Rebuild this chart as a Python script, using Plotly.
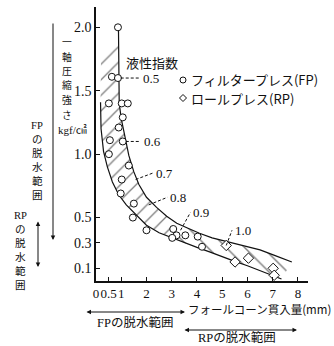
import numpy as np
import plotly.graph_objects as go

# ---- data -------------------------------------------------------------
# Filter press (FP) samples: fall-cone penetration (mm) vs unconfined strength (kgf/cm2)
fp_x = [0.87, 0.63, 0.87, 0.51, 1.02, 1.26, 1.06, 0.90, 0.55, 1.06, 0.51, 1.30,
        1.02, 0.98, 1.50, 1.46, 2.00, 3.06, 3.19, 3.02, 3.54, 4.03, 4.20]
fp_y = [2.00, 1.61, 1.60, 1.40, 1.40, 1.40, 1.29, 1.21, 1.11, 1.10, 1.00, 0.91,
        0.80, 0.69, 0.61, 0.50, 0.40, 0.41, 0.36, 0.34, 0.36, 0.35, 0.27]

# Roll press (RP) samples
rp_x = [5.16, 5.51, 6.04, 7.02, 7.06]
rp_y = [0.28, 0.15, 0.18, 0.10, 0.045]

# Upper and lower limits of the data band
upper_x = [0.89, 0.92, 1.00, 1.10, 1.30, 1.50, 1.70, 2.00, 2.40, 2.80, 3.20, 3.60,
           4.10, 4.60, 5.20, 5.80, 6.50, 7.10, 7.76]
upper_y = [2.00, 1.40, 1.28, 1.18, 0.99, 0.86, 0.76, 0.66, 0.58, 0.51, 0.455, 0.42,
           0.376, 0.34, 0.31, 0.275, 0.245, 0.20, 0.15]
lower_x = [0.18, 0.20, 0.30, 0.45, 0.65, 0.90, 1.20, 1.50, 2.00, 2.50, 3.00, 3.50,
           4.00, 4.50, 5.00, 5.50, 6.00, 6.50, 7.00, 7.35]
lower_y = [1.41, 1.20, 1.02, 0.90, 0.78, 0.68, 0.60, 0.54, 0.44, 0.38, 0.34, 0.30,
           0.265, 0.23, 0.19, 0.155, 0.12, 0.08, 0.045, 0.016]
band_top_x = [0.89, 0.20]
band_top_y = [1.92, 1.78]
hatch_split = 3.0

# Liquidity index labels and their leader lines
li_text = ["0.5", "0.6", "0.7", "0.8", "0.9", "1.0"]
li_from_x = [0.98, 1.18, 1.57, 2.09, 3.35, 5.16]
li_from_y = [1.60, 1.10, 0.80, 0.60, 0.40, 0.28]
li_to_x = [1.73, 1.77, 2.24, 2.83, 3.74, 5.39]
li_to_y = [1.60, 1.10, 0.85, 0.66, 0.54, 0.40]

x_ticks = [0, 0.5, 1, 2, 3, 4, 5, 6, 7, 8]
x_ticktext = ["0", "0.5", "1", "2", "3", "4", "5", "6", "7", "8"]
y_ticks = [0.1, 0.3, 0.5, 1.0, 1.5, 2.0]
y_ticktext = ["0.1", "0.3", "0.5", "1.0", "1.5", "2.0"]

# ---- geometry ---------------------------------------------------------
W, H = 334, 346
L, R, T, B = 96, 26, 7, 65
PW, PH = W - L - R, H - T - B

SERIF = "Liberation Serif, Noto Sans CJK JP"
JP = "Noto Sans CJK JP"
INK = "#111"


def pxx(xp):
    return (xp - L) / PW


def pxy(yp):
    return (H - B - yp) / PH


ux, uy = np.array(upper_x), np.array(upper_y)
lx, ly = np.array(lower_x), np.array(lower_y)
lo_s = float(np.interp(hatch_split, lx, ly))
up_s = float(np.interp(hatch_split, ux, uy))

# left part of the band ("/" hatch)
mask_l = lx < hatch_split
mask_u = (ux < hatch_split) & (uy <= band_top_y[0])
polyA_x = band_top_x + list(lx[mask_l]) + [hatch_split, hatch_split] + list(ux[mask_u][::-1])
polyA_y = band_top_y + list(ly[mask_l]) + [lo_s, up_s] + list(uy[mask_u][::-1])

# right part of the band ("\" hatch)
mask_l2 = lx > hatch_split
mask_u2 = ux > hatch_split
polyB_x = [hatch_split] + list(lx[mask_l2]) + list(ux[mask_u2][::-1]) + [hatch_split]
polyB_y = [lo_s] + list(ly[mask_l2]) + list(uy[mask_u2][::-1]) + [up_s]

fig = go.Figure()

fig.add_trace(go.Scatter(
    x=polyA_x, y=polyA_y, mode="none", fill="toself",
    fillcolor="rgba(255,255,255,0)",
    fillpattern=dict(shape="/", size=11, solidity=0.12, fgcolor="black",
                     bgcolor="rgba(255,255,255,0)"),
    showlegend=False, hoverinfo="skip"))
fig.add_trace(go.Scatter(
    x=polyB_x, y=polyB_y, mode="none", fill="toself",
    fillcolor="rgba(255,255,255,0)",
    fillpattern=dict(shape="\\", size=13, solidity=0.11, fgcolor="black",
                     bgcolor="rgba(255,255,255,0)"),
    showlegend=False, hoverinfo="skip"))

fig.add_trace(go.Scatter(x=upper_x, y=upper_y, mode="lines",
                         line=dict(color=INK, width=1.2), showlegend=False))
fig.add_trace(go.Scatter(x=lower_x, y=lower_y, mode="lines",
                         line=dict(color=INK, width=1.2), showlegend=False))

fig.add_trace(go.Scatter(
    x=fp_x, y=fp_y, mode="markers", name="フィルタープレス(FP)",
    marker=dict(symbol="circle", size=7, color="white",
                line=dict(color=INK, width=1)), showlegend=False))
fig.add_trace(go.Scatter(
    x=rp_x, y=rp_y, mode="markers", name="ロールプレス(RP)",
    marker=dict(symbol="diamond", size=8, color="white",
                line=dict(color=INK, width=1)), showlegend=False))

shapes = []
annotations = []

# leader lines + liquidity index values
for t, x0, y0, x1, y1 in zip(li_text, li_from_x, li_from_y, li_to_x, li_to_y):
    shapes.append(dict(type="line", xref="x", yref="y", x0=x0, y0=y0, x1=x1, y1=y1,
                       line=dict(color=INK, width=1, dash="3px,2px")))
    annotations.append(dict(x=x1, y=y1, xref="x", yref="y", text=t, showarrow=False,
                            xanchor="left", yanchor="middle", xshift=1,
                            font=dict(family=SERIF, size=13, color=INK)))


def label(text, xp, yp, size, family=JP, xanchor="center"):
    annotations.append(dict(x=pxx(xp), y=pxy(yp), xref="paper", yref="paper",
                            text=text, showarrow=False,
                            xanchor=xanchor, yanchor="middle",
                            font=dict(family=family, size=size, color=INK)))


label("液性指数", 152, 62, 13)

# legend keys
shapes.append(dict(type="circle", xref="paper", yref="paper",
                   xsizemode="pixel", ysizemode="pixel",
                   xanchor=pxx(183), yanchor=pxy(80),
                   x0=-3, x1=3, y0=-3, y1=3, line=dict(color=INK, width=1)))
shapes.append(dict(type="path", xref="paper", yref="paper",
                   xsizemode="pixel", ysizemode="pixel",
                   xanchor=pxx(183), yanchor=pxy(98),
                   path="M -3.5 0 L 0 3.5 L 3.5 0 L 0 -3.5 Z",
                   line=dict(color=INK, width=1)))
label("フィルタープレス(FP)", 189, 80, 13, xanchor="left")
label("ロールプレス(RP)", 189, 98, 13, xanchor="left")


def column(chars, xc, ys, size, family=JP):
    for ch, yc in zip(chars, ys):
        label(ch, xc, yc, size, family)


# vertical y-axis title
column(list("一軸圧縮強さ"), 67, [42, 56.5, 71, 85.5, 100, 114.5], 9.8)
label("kgf/㎠", 72, 130, 11, SERIF)

# dewatering ranges along the strength axis
column(["FP", "の", "脱", "水", "範", "囲"], 37, [125, 139, 153, 167, 181, 195], 10.6, SERIF)
column(["RP", "の", "脱", "水", "範", "囲"], 20, [215, 229, 243, 257, 271, 285], 10.6, SERIF)


def arrow(x_head, y_head, x_tail, y_tail, both=False):
    annotations.append(dict(x=pxx(x_head), y=pxy(y_head), xref="paper", yref="paper",
                            ax=x_tail - x_head, ay=y_tail - y_head, text="",
                            showarrow=True, arrowhead=2, arrowsize=0.9,
                            arrowwidth=1, arrowcolor=INK,
                            arrowside="end+start" if both else "end"))


arrow(53, 240, 53, 22)
arrow(38, 267, 38, 220, both=True)
arrow(185, 312, 85, 312, both=True)
arrow(297, 330, 183, 330, both=True)

# x-axis title and dewatering ranges along the penetration axis
label("フォールコーン貫入量(mm)", 333, 309, 11.5, xanchor="right")
label("FPの脱水範囲", 135, 322, 12.5, SERIF)
label("RPの脱水範囲", 237, 337, 12.5, SERIF)

fig.update_layout(
    width=W, height=H,
    margin=dict(l=L, r=R, t=T, b=B, pad=0),
    paper_bgcolor="white", plot_bgcolor="white",
    showlegend=False,
    shapes=shapes, annotations=annotations,
    xaxis=dict(range=[0, 8.4], tickvals=x_ticks, ticktext=x_ticktext, tickangle=0,
               showgrid=False, zeroline=False, showline=True,
               linecolor=INK, linewidth=1.5, ticks="inside", ticklen=4,
               tickcolor=INK, tickfont=dict(family=SERIF, size=13, color=INK)),
    yaxis=dict(range=[0, 2.16], tickvals=y_ticks, ticktext=y_ticktext,
               showgrid=False, zeroline=False, showline=True,
               linecolor=INK, linewidth=1.5, ticks="inside", ticklen=4,
               tickcolor=INK, tickfont=dict(family=SERIF, size=14, color=INK)),
)

fig.write_html("out.html")
